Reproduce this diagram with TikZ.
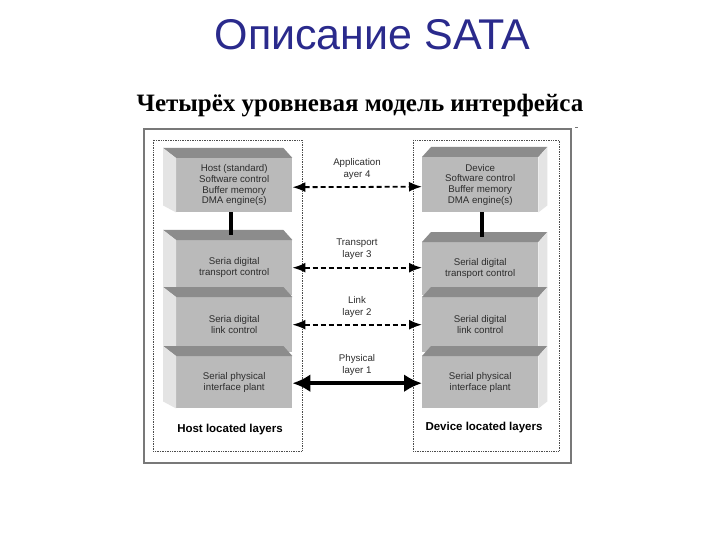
\documentclass[tikz,border=0pt]{standalone}
\usepackage{fontspec}
\setmainfont{Liberation Sans}
\newfontfamily\serifb{Liberation Serif}
\usetikzlibrary{arrows.meta,calc}
\definecolor{titleblue}{RGB}{42,42,140}
\definecolor{topc}{RGB}{140,140,140}
\definecolor{frontc}{RGB}{186,186,186}
\definecolor{sidec}{RGB}{228,228,228}
\definecolor{txt}{RGB}{45,45,45}
\definecolor{framec}{RGB}{120,120,120}
\newcommand\lblk[4]{%
  \node[front, minimum height={#3-#2}, anchor=north west] (#1) at (176,#2) {#4};
  \fill[topc] (#1.north west) -- ++(-13,-10) -- ($(#1.north east)+(-9,-10)$) -- (#1.north east) -- cycle;
  \fill[sidec] (#1.north west) -- ++(-13,-10) -- ($(#1.south west)+(-13,-7)$) -- (#1.south west) -- cycle;
}
\newcommand\rblk[4]{%
  \node[front, minimum height={#3-#2}, anchor=north west] (#1) at (422,#2) {#4};
  \fill[topc] (#1.north west) -- ++(9,-10) -- ($(#1.north east)+(9,-10)$) -- (#1.north east) -- cycle;
  \fill[sidec] (#1.north east) -- ++(9,-10) -- ($(#1.south east)+(9,-7)$) -- (#1.south east) -- cycle;
}
\begin{document}
\begin{tikzpicture}[x=1pt,y=-1pt,
  front/.style={fill=frontc, minimum width=116pt, inner sep=0pt, align=center,
    font=\fontsize{9.7}{10.8}\selectfont, text=txt},
  midlabel/.style={align=center, font=\fontsize{9.7}{12}\selectfont, text=txt},
  biglabel/.style={font=\bfseries\fontsize{11.5}{13}\selectfont, text=black},
  dasharrow/.style={line width=1.8pt, dash pattern=on 5pt off 3pt,
    {Latex[length=13pt,width=10pt]}-{Latex[length=13pt,width=10pt]}},
  thickarrow/.style={line width=4pt, {Latex[length=18pt,width=18pt]}-{Latex[length=18pt,width=18pt]}},
  bar/.style={line width=4pt, black}]
\useasboundingbox (0,0) rectangle (720,540);
\fill[white] (0,0) rectangle (720,540);

\node[anchor=base, font=\fontsize{43}{43}\selectfont, text=titleblue] (title) at (372.5,50) {Описание SATA};
\node[anchor=base, font=\serifb\bfseries\fontsize{25}{25}\selectfont] (sub) at (360,112) {Четырёх уровневая модель интерфейса};

\draw[framec, line width=1.5pt] (144,129) rectangle (571,463);
\draw[framec, line width=0.8pt] (575,127) -- (578,127);
\draw[gray!60!black, densely dotted, line width=0.7pt] (153,140) rectangle (302,451);
\draw[gray!60!black, densely dotted, line width=0.7pt] (413,140) rectangle (559,451);

\lblk{h1}{158}{212}{Host (standard)\\Software control\\Buffer memory\\DMA engine(s)}
\lblk{h2}{240}{295}{Seria digital\\transport control}
\lblk{h3}{297}{352}{Seria digital\\link control}
\lblk{h4}{356}{408}{Serial physical\\interface plant}

\rblk{d1}{157}{212}{Device\\Software control\\Buffer memory\\DMA engine(s)}
\rblk{d2}{242}{295}{Serial digital\\transport control}
\rblk{d3}{297}{352}{Serial digital\\link control}
\rblk{d4}{356}{408}{Serial physical\\interface plant}

\draw[bar] ([xshift=-3pt]h1.south) -- ([xshift=-3pt,yshift=5pt]h2.north);
\draw[bar] ([xshift=2pt]d1.south) -- ([xshift=2pt,yshift=5pt]d2.north);

\node[midlabel] (l4) at (357,169) {Application\\ayer 4};
\node[midlabel] (l3) at (357,249) {Transport\\layer 3};
\node[midlabel] (l2) at (357,307) {Link\\layer 2};
\node[midlabel] (l1) at (357,365) {Physical\\layer 1};

\draw[dasharrow] ([yshift=-2pt]h1.east) -- ([yshift=-2pt]d1.west);
\draw[dasharrow] (h2.east) -- (d2.west |- h2.east);
\draw[dasharrow] (h3.east) -- (d3.west);
\draw[thickarrow] ([yshift=-1pt]h4.east) -- ([yshift=-1pt]d4.west);

\node[biglabel] (hl) at (230,430) {Host located layers};
\node[biglabel] (dl) at (484,428) {Device located layers};
\end{tikzpicture}
\end{document}
